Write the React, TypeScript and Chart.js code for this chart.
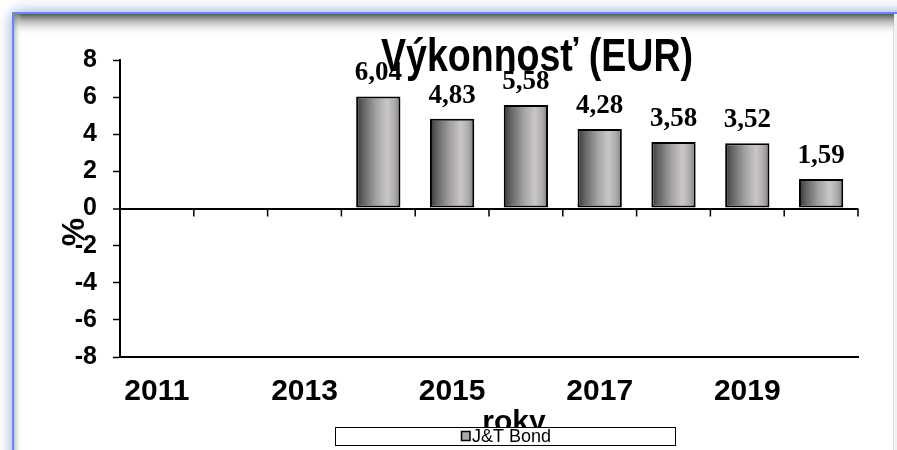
import React, { useEffect, useRef } from 'react';
import { Chart, registerables } from 'chart.js';

Chart.register(...registerables);

const years = ['2011', '2012', '2013', '2014', '2015', '2016', '2017', '2018', '2019', '2020'];
const shownYears = ['2011', '', '2013', '', '2015', '', '2017', '', '2019', ''];
const seriesName = 'J&T Bond';
const performance: (number | null)[] = [null, null, null, 6.04, 4.83, 5.58, 4.28, 3.58, 3.52, 1.59];
const yMin = -8;
const yMax = 8;
const yStep = 2;
const chartTitle = 'Výkonnosť (EUR)';
const xTitle = 'roky';
const yTitle = '%';

const SANS = "'Liberation Sans', Arial, sans-serif";
const NARROW = "'Liberation Sans Narrow', 'Arial Narrow', 'Liberation Sans', Arial, sans-serif";
const SERIF = "'Liberation Serif', 'Times New Roman', serif";

const fmt = (v: number) => v.toFixed(2).replace('.', ',');

const framePlugin = {
  id: 'frame',
  beforeDraw(chart: any) {
    const { ctx, width, height } = chart;
    ctx.save();
    ctx.fillStyle = '#ffffff';
    ctx.fillRect(0, 0, width, height);
    ctx.shadowColor = 'rgba(80,130,235,0.8)';
    ctx.shadowBlur = 14;
    ctx.fillStyle = '#ffffff';
    ctx.fillRect(13, 13, width + 60, height + 60);
    ctx.shadowColor = 'transparent';
    ctx.shadowBlur = 0;
    ctx.fillStyle = '#f2f2f2';
    ctx.fillRect(894, 14, 4, height);
    ctx.fillStyle = '#dddddd';
    ctx.fillRect(893, 14, 1, height);
    const g = ctx.createLinearGradient(0, 14, 0, 36);
    g.addColorStop(0, 'rgba(80,80,80,0.95)');
    g.addColorStop(0.35, 'rgba(160,160,160,0.7)');
    g.addColorStop(1, 'rgba(255,255,255,0)');
    ctx.fillStyle = g;
    ctx.fillRect(14, 14, 880, 22);
    const gl = ctx.createLinearGradient(14, 0, 22, 0);
    gl.addColorStop(0, 'rgba(150,150,150,0.6)');
    gl.addColorStop(1, 'rgba(255,255,255,0)');
    ctx.fillStyle = gl;
    ctx.fillRect(14, 14, 8, height);
    ctx.strokeStyle = '#5f8fe6';
    ctx.lineWidth = 2;
    ctx.beginPath();
    ctx.moveTo(13, height + 5);
    ctx.lineTo(13, 13);
    ctx.lineTo(width + 5, 13);
    ctx.stroke();
    ctx.restore();
  },
};

const zeroTicksPlugin = {
  id: 'zeroTicks',
  beforeDatasetsDraw(chart: any) {
    const { ctx } = chart;
    const xs = chart.scales.x;
    const ys = chart.scales.y;
    const y0 = ys.getPixelForValue(0);
    const n = years.length;
    const w = (xs.right - xs.left) / n;
    ctx.save();
    ctx.strokeStyle = '#000';
    ctx.lineWidth = 1.5;
    ctx.beginPath();
    for (let k = 1; k <= n; k++) {
      const x = xs.left + k * w;
      ctx.moveTo(x, y0);
      ctx.lineTo(x, y0 + 8);
    }
    ctx.stroke();
    ctx.restore();
  },
};

const labelsPlugin = {
  id: 'valueLabels',
  afterDatasetsDraw(chart: any) {
    const { ctx } = chart;
    const meta = chart.getDatasetMeta(0);
    ctx.save();
    ctx.fillStyle = '#000';
    ctx.font = `bold 27px ${SERIF}`;
    ctx.textAlign = 'center';
    ctx.textBaseline = 'alphabetic';
    meta.data.forEach((bar: any, i: number) => {
      const v = performance[i];
      if (v === null || v === undefined) return;
      ctx.fillText(fmt(v), bar.x, bar.y - 16);
    });
    ctx.restore();
  },
};

const textPlugin = {
  id: 'texts',
  afterDraw(chart: any) {
    const { ctx } = chart;
    ctx.save();
    ctx.fillStyle = '#000';
    ctx.font = `bold 47px ${NARROW}`;
    ctx.textAlign = 'center';
    ctx.textBaseline = 'alphabetic';
    ctx.fillText(chartTitle, 537, 71, 312);
    ctx.save();
    ctx.translate(75, 232);
    ctx.rotate(-Math.PI / 2);
    ctx.font = `bold 32px ${SANS}`;
    ctx.textAlign = 'center';
    ctx.textBaseline = 'middle';
    ctx.fillText(yTitle, 0, 0);
    ctx.restore();
    ctx.font = `bold 30px ${SANS}`;
    ctx.textAlign = 'center';
    ctx.textBaseline = 'alphabetic';
    ctx.fillText(xTitle, 514, 431);
    ctx.fillStyle = '#ffffff';
    ctx.fillRect(335, 427, 340, 18);
    ctx.strokeStyle = '#000';
    ctx.lineWidth = 1;
    ctx.strokeRect(335.5, 427.5, 340, 18);
    ctx.fillStyle = '#a9a9a9';
    ctx.fillRect(461, 431, 9, 10);
    ctx.strokeStyle = '#000';
    ctx.lineWidth = 1.5;
    ctx.strokeRect(461.5, 431.5, 8.5, 9);
    ctx.fillStyle = '#000';
    ctx.font = `18px ${SANS}`;
    ctx.textAlign = 'left';
    ctx.textBaseline = 'middle';
    const ds = chart.data.datasets[0];
    ctx.fillText(ds.label, 472, 437);
    ctx.restore();
  },
};

function barGradient(context: any) {
  const chart = context.chart;
  const xs = chart.scales?.x;
  if (!xs || context.dataIndex === undefined) return '#a0a0a0';
  const cx = xs.getPixelForValue(context.dataIndex);
  const w = ((xs.right - xs.left) / years.length) * 0.6;
  const x0 = cx - w / 2;
  const x1 = cx + w / 2;
  if (!isFinite(x0) || !isFinite(x1)) return '#a0a0a0';
  const g = chart.ctx.createLinearGradient(x0, 0, x1, 0);
  g.addColorStop(0, '#363636');
  g.addColorStop(0.15, '#626262');
  g.addColorStop(0.45, '#a3a1a1');
  g.addColorStop(0.7, '#cbc7c7');
  g.addColorStop(0.88, '#aaa8a8');
  g.addColorStop(1, '#777575');
  return g;
}

export default function App() {
  const ref = useRef<HTMLCanvasElement>(null);

  useEffect(() => {
    if (!ref.current) return;
    const chart = new Chart(ref.current, {
      type: 'bar',
      data: {
        labels: years,
        datasets: [
          {
            label: seriesName,
            data: performance as any,
            backgroundColor: barGradient as any,
            borderColor: '#000',
            borderWidth: 2,
            borderSkipped: false,
            categoryPercentage: 1,
            barPercentage: 0.6,
          },
        ],
      },
      options: {
        responsive: false,
        animation: false,
        layout: { padding: { left: 0, top: 60, right: 39, bottom: 33 } },
        plugins: {
          legend: { display: false },
          title: { display: false },
          tooltip: { enabled: false },
        },
        scales: {
          x: {
            type: 'category',
            offset: true,
            grid: { display: false, drawTicks: false, tickLength: 0 },
            border: { display: true, color: '#000', width: 2 },
            ticks: {
              autoSkip: false,
              maxRotation: 0,
              padding: 17,
              color: '#000',
              font: { family: SANS, size: 30, weight: 'bold' },
              callback: (_v: any, i: number) => shownYears[i],
            },
            afterFit: (s: any) => {
              s.height = 60;
            },
          },
          y: {
            min: yMin,
            max: yMax,
            grid: {
              color: (c: any) => (c.tick && c.tick.value === 0 ? '#000' : 'rgba(0,0,0,0)'),
              lineWidth: (c: any) => (c.tick && c.tick.value === 0 ? 2 : 1),
              tickColor: '#000',
              tickWidth: 1.5,
              tickLength: 7,
              drawTicks: true,
            },
            border: { display: true, color: '#000', width: 2 },
            ticks: {
              stepSize: yStep,
              padding: 16,
              color: '#000',
              font: { family: SANS, size: 25, weight: 'bold' },
              callback: (v: any) => String(v),
            },
            afterFit: (s: any) => {
              s.width = 120;
            },
          },
        },
      },
      plugins: [framePlugin, zeroTicksPlugin, labelsPlugin, textPlugin],
    });
    return () => chart.destroy();
  }, []);

  return (
    <div style={{ position: 'absolute', left: 0, top: 0, width: 897, height: 450 }}>
      <canvas ref={ref} width={897} height={450} style={{ display: 'block' }} />
    </div>
  );
}
